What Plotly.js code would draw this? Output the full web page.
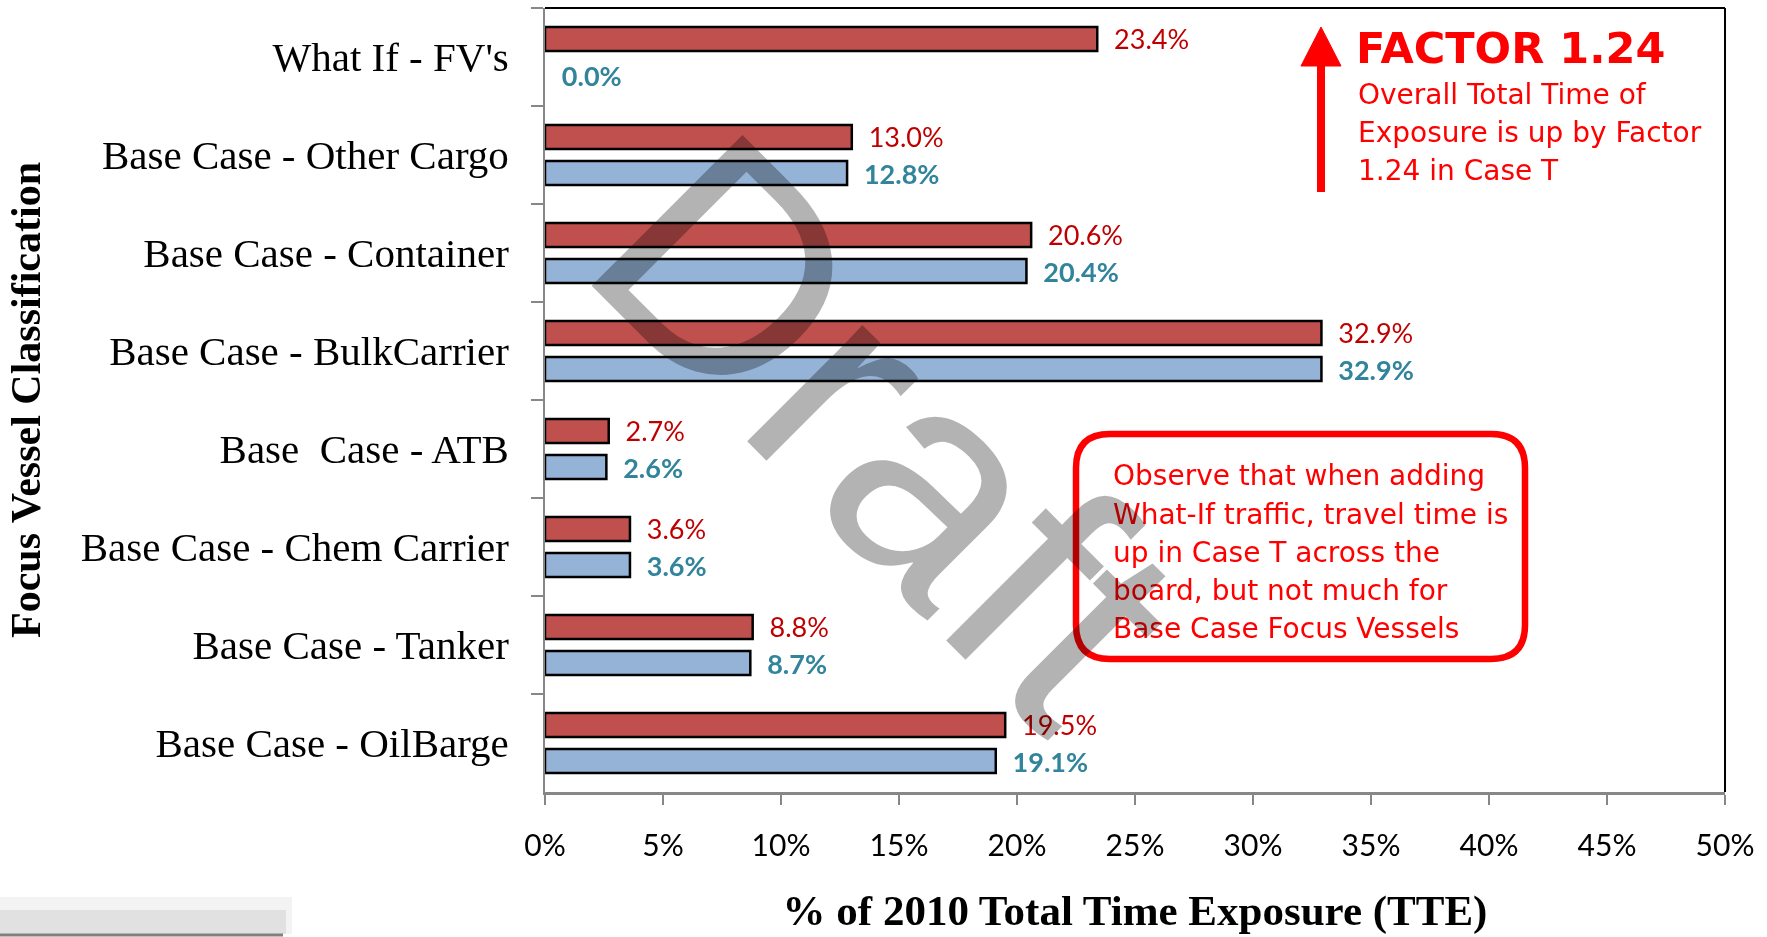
<!DOCTYPE html>
<html><head><meta charset="utf-8">
<script src="https://cdn.plot.ly/plotly-3.0.1.min.js"></script>
<style>html,body{margin:0;padding:0;background:#fff}#chart{width:1767px;height:937px}</style>
</head><body><div id="chart"></div>
<script>
// ---- data ----
const categories = ["What If - FV's", "Base Case - Other Cargo", "Base Case - Container", "Base Case - BulkCarrier", "Base\u00a0 Case - ATB", "Base Case - Chem Carrier", "Base Case - Tanker", "Base Case - OilBarge"];
const caseT = [23.4, 13.0, 20.6, 32.9, 2.7, 3.6, 8.8, 19.5];
const baseCase = [0.0, 12.8, 20.4, 32.9, 2.6, 3.6, 8.7, 19.1];
const xTickVals = [0, 5, 10, 15, 20, 25, 30, 35, 40, 45, 50];
const xTickText = ["0%", "5%", "10%", "15%", "20%", "25%", "30%", "35%", "40%", "45%", "50%"];
const xTitle = "% of 2010 Total Time Exposure (TTE)";
const yTitle = "Focus Vessel Classification";
const factorTitle = "FACTOR 1.24";
const factorText = ["Overall Total Time of", "Exposure is up by Factor", "1.24 in Case T"];
const calloutText = ["Observe that when adding", "What-If traffic, travel time is", "up in Case T across the", "board, but not much for", "Base Case Focus Vessels"];
const watermark = "Draft";

const labelFont = "Lato, 'Liberation Sans', sans-serif";
const serif = "'Liberation Serif', 'DejaVu Serif', serif";
const tahoma = "'DejaVu Sans', Verdana, sans-serif";

// pixel -> paper helpers for decorations (plot area: x 545..1725, y 8..792)
const PX = x => (x - 545) / 1180;
const PY = y => (792 - y) / 784;

const traces = [
  {
    type: 'bar', orientation: 'h', name: 'Case T',
    y: categories, x: caseT,
    marker: {color: '#c0504d', line: {color: '#000000', width: caseT.map(v => v > 0 ? 2.5 : 0)}},
    text: caseT.map(v => '\u00a0\u00a0' + v.toFixed(1) + '%'),
    textposition: 'outside', constraintext: 'none', cliponaxis: false,
    textfont: {family: labelFont, size: 27, color: '#c00000'},
    hoverinfo: 'x+y'
  },
  {
    type: 'bar', orientation: 'h', name: 'Base Case',
    y: categories, x: baseCase,
    marker: {color: '#95b3d7', line: {color: '#000000', width: baseCase.map(v => v > 0 ? 2.5 : 0)}},
    text: baseCase.map(v => '\u00a0\u00a0<b>' + v.toFixed(1) + '%</b>'),
    textposition: 'outside', constraintext: 'none', cliponaxis: false,
    textfont: {family: labelFont, size: 27, color: '#31849b'},
    hoverinfo: 'x+y'
  }
];

const annotations = [
  {xref: 'paper', yref: 'paper', x: PX(1354), y: PY(48), xanchor: 'left', yanchor: 'middle', showarrow: false,
   text: '<b>' + factorTitle + '</b>', font: {family: tahoma, size: 43, color: '#ff0000'}}
];
factorText.forEach((t, i) => annotations.push({
  xref: 'paper', yref: 'paper', x: PX(1356), y: PY(94 + 38.3 * i), xanchor: 'left', yanchor: 'middle', showarrow: false,
  text: t, font: {family: tahoma, size: 28, color: '#ff0000'}
}));
calloutText.forEach((t, i) => annotations.push({
  xref: 'paper', yref: 'paper', x: PX(1111), y: PY(476 + 38 * i), xanchor: 'left', yanchor: 'middle', showarrow: false,
  text: t, font: {family: tahoma, size: 28, color: '#ff0000'}
}));
annotations.push({
  xref: 'paper', yref: 'paper', x: 0.290, y: 0.462, xanchor: 'center', yanchor: 'middle', showarrow: false,
  text: watermark, textangle: 45, font: {family: "'Liberation Sans', Arial, sans-serif", size: 310, color: '#b3b3b3'}
});

const layout = {
  width: 1767, height: 937,
  margin: {l: 545, r: 42, t: 8, b: 145},
  paper_bgcolor: '#ffffff', plot_bgcolor: '#ffffff',
  showlegend: false,
  barmode: 'group', bargap: 0.265, bargroupgap: 0.33,
  xaxis: {
    range: [0, 50], tickvals: xTickVals, ticktext: xTickText,
    ticks: 'outside', ticklen: 10, tickwidth: 2, tickcolor: '#878787',
    showline: true, linecolor: '#878787', linewidth: 3,
    showgrid: false, zeroline: false, fixedrange: true,
    tickfont: {family: labelFont, size: 30, color: '#000000'},
    ticklabelstandoff: 15,
    title: {text: '<b>' + xTitle + '</b>', font: {family: serif, size: 43, color: '#000000'}, standoff: 34}
  },
  yaxis: {
    type: 'category', autorange: 'reversed',
    tickson: 'boundaries', ticks: 'outside', ticklen: 12, tickwidth: 2, tickcolor: '#878787',
    showline: true, linecolor: '#878787', linewidth: 2,
    showgrid: false, zeroline: false, fixedrange: true,
    tickfont: {family: serif, size: 41, color: '#000000'},
    ticklabelstandoff: 26,
    title: {text: '<b>' + yTitle + '</b>', font: {family: serif, size: 42, color: '#000000'}, standoff: 27}
  },
  shapes: [
    // plot frame top & right
    {type: 'line', xref: 'paper', yref: 'paper', x0: 0, x1: 1, y0: 1, y1: 1, line: {color: '#000000', width: 2}},
    {type: 'line', xref: 'paper', yref: 'paper', x0: 1, x1: 1, y0: 0, y1: 1, line: {color: '#000000', width: 2}},
    // arrow shaft + head
    {type: 'line', xref: 'paper', yref: 'paper', x0: PX(1321), x1: PX(1321), y0: PY(192), y1: PY(62), line: {color: '#ff0000', width: 8}},
    {type: 'path', xref: 'paper', yref: 'paper',
     path: `M ${PX(1301)} ${PY(66)} L ${PX(1341)} ${PY(66)} L ${PX(1321)} ${PY(27)} Z`,
     fillcolor: '#ff0000', line: {color: '#ff0000', width: 1}},
    // callout rounded box
    {type: 'path', xref: 'paper', yref: 'paper',
     path: `M ${PX(1110)} ${PY(434)} L ${PX(1491)} ${PY(434)} Q ${PX(1525)} ${PY(434)} ${PX(1525)} ${PY(468)} L ${PX(1525)} ${PY(625)} Q ${PX(1525)} ${PY(659)} ${PX(1491)} ${PY(659)} L ${PX(1110)} ${PY(659)} Q ${PX(1076)} ${PY(659)} ${PX(1076)} ${PY(625)} L ${PX(1076)} ${PY(468)} Q ${PX(1076)} ${PY(434)} ${PX(1110)} ${PY(434)} Z`,
     line: {color: '#ff0000', width: 6.5}, fillcolor: 'rgba(0,0,0,0)'},
    // slide shadow artifact bottom-left
    {type: 'rect', xref: 'paper', yref: 'paper', x0: PX(0), x1: PX(292), y0: PY(934), y1: PY(897), fillcolor: 'rgba(215,215,215,0.3)', line: {width: 0}},
    {type: 'rect', xref: 'paper', yref: 'paper', x0: PX(0), x1: PX(286), y0: PY(934), y1: PY(910), fillcolor: 'rgba(205,205,205,0.45)', line: {width: 0}},
    {type: 'line', xref: 'paper', yref: 'paper', x0: PX(0), x1: PX(283), y0: PY(935), y1: PY(935), line: {color: '#808080', width: 3}}
  ],
  annotations: annotations
};

Plotly.newPlot('chart', traces, layout, {displayModeBar: false, staticPlot: true}).then(function (gd) {
  const svgs = gd.querySelectorAll('svg.main-svg');
  if (svgs.length > 1) svgs[svgs.length - 1].style.mixBlendMode = 'multiply';
  gd.querySelectorAll('.annotation').forEach(function (a) {
    if (a.textContent === watermark) a.style.mixBlendMode = 'multiply';
  });
});
</script>
</body></html>
